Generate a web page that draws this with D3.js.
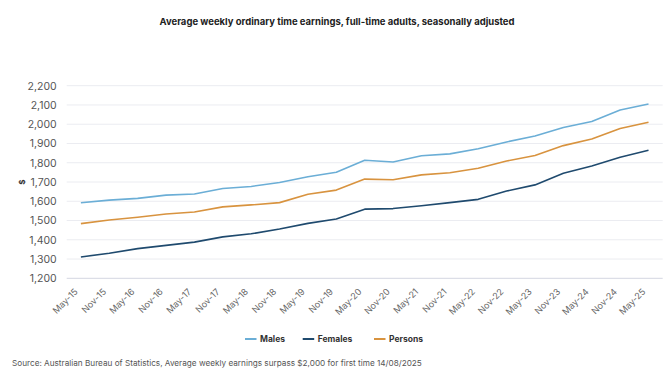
<!DOCTYPE html>
<html><head><meta charset="utf-8">
<script src="https://cdn.jsdelivr.net/npm/d3@7"></script>
<style>body{margin:0;background:#fff;}svg{display:block;font-family:Inter,"Noto Sans",sans-serif;}</style>
</head><body><svg id="c" width="672" height="372"></svg>
<script>
const categories = ["May-15","Nov-15","May-16","Nov-16","May-17","Nov-17","May-18","Nov-18","May-19","Nov-19","May-20","Nov-20","May-21","Nov-21","May-22","Nov-22","May-23","Nov-23","May-24","Nov-24","May-25"];
const males   = [1592,1606,1615,1632,1638,1666,1677,1697,1727,1751,1813,1804,1836,1846,1873,1908,1939,1983,2014,2074,2105];
const females = [1311,1330,1354,1371,1388,1415,1431,1456,1485,1508,1559,1562,1577,1593,1610,1653,1685,1745,1783,1828,1865];
const persons = [1484,1503,1517,1534,1544,1571,1581,1593,1636,1658,1715,1712,1737,1748,1771,1809,1838,1889,1923,1978,2010];
const yTicks = [1200,1300,1400,1500,1600,1700,1800,1900,2000,2100,2200];
const seriesNames = ["Males","Females","Persons"];
const colors = ["#6baed6","#1f4a6e","#d8933f"];

const svg = d3.select("#c");
const x = d3.scalePoint().domain(categories).range([66.7,662.7]).padding(0.5);
const y = d3.scaleLinear().domain([1200,2200]).range([278.3,85.7]);

svg.append("text").attr("x",337).attr("y",25).attr("text-anchor","middle")
  .attr("font-size",9.5).attr("font-weight",700).attr("fill","#222")
  .text("Average weekly ordinary time earnings, full-time adults, seasonally adjusted");

// gridlines
svg.append("g").selectAll("line").data(yTicks).join("line")
  .attr("x1",66.7).attr("x2",662.7).attr("y1",d=>y(d)).attr("y2",d=>y(d))
  .attr("stroke",d=>d===1200?"#d4d6e2":"#ebecf1").attr("stroke-width",1);

const yAxis = svg.append("g").attr("transform","translate(66.7,0)")
  .call(d3.axisLeft(y).tickValues(yTicks).tickSize(0).tickPadding(10).tickFormat(d3.format(",")));
yAxis.select(".domain").remove();
yAxis.selectAll("text").attr("font-size",10.5).attr("fill","#555").attr("font-family","Inter,sans-serif");

svg.append("text").attr("transform","translate(22,182) rotate(-90)").attr("text-anchor","middle")
  .attr("dy","0.35em").attr("font-size",8).attr("font-weight",700).attr("fill","#333").text("$");

const xAxis = svg.append("g").attr("transform","translate(0,278.3)")
  .call(d3.axisBottom(x).tickSize(0).tickPadding(0));
xAxis.select(".domain").remove();
xAxis.selectAll("text").attr("font-size",9).attr("fill","#666").attr("font-family","Inter,sans-serif")
  .attr("text-anchor","end").attr("dy",0).attr("y",0)
  .attr("transform","translate(-3,14) rotate(-45)");

const data = [males,females,persons];
const line = d3.line().x((d,i)=>x(categories[i])).y(d=>y(d));
svg.append("g").selectAll("path").data(data).join("path")
  .attr("d",line).attr("fill","none").attr("stroke",(d,i)=>colors[i]).attr("stroke-width",1.6)
  .attr("stroke-linejoin","round");

// legend
const legX = [245,302.7,374];
const lg = svg.append("g").selectAll("g").data(seriesNames).join("g")
  .attr("transform",(d,i)=>`translate(${legX[i]},339)`);
lg.append("line").attr("x1",0).attr("x2",11.5).attr("stroke",(d,i)=>colors[i]).attr("stroke-width",2);
lg.append("text").attr("x",15).attr("dy","0.35em").attr("font-size",8.5).attr("font-weight",700).attr("fill","#333").text(d=>d);

svg.append("text").attr("x",12).attr("y",366).attr("font-size",8.2).attr("fill","#555")
  .text("Source: Australian Bureau of Statistics, Average weekly earnings surpass $2,000 for first time  14/08/2025");
</script></body></html>
